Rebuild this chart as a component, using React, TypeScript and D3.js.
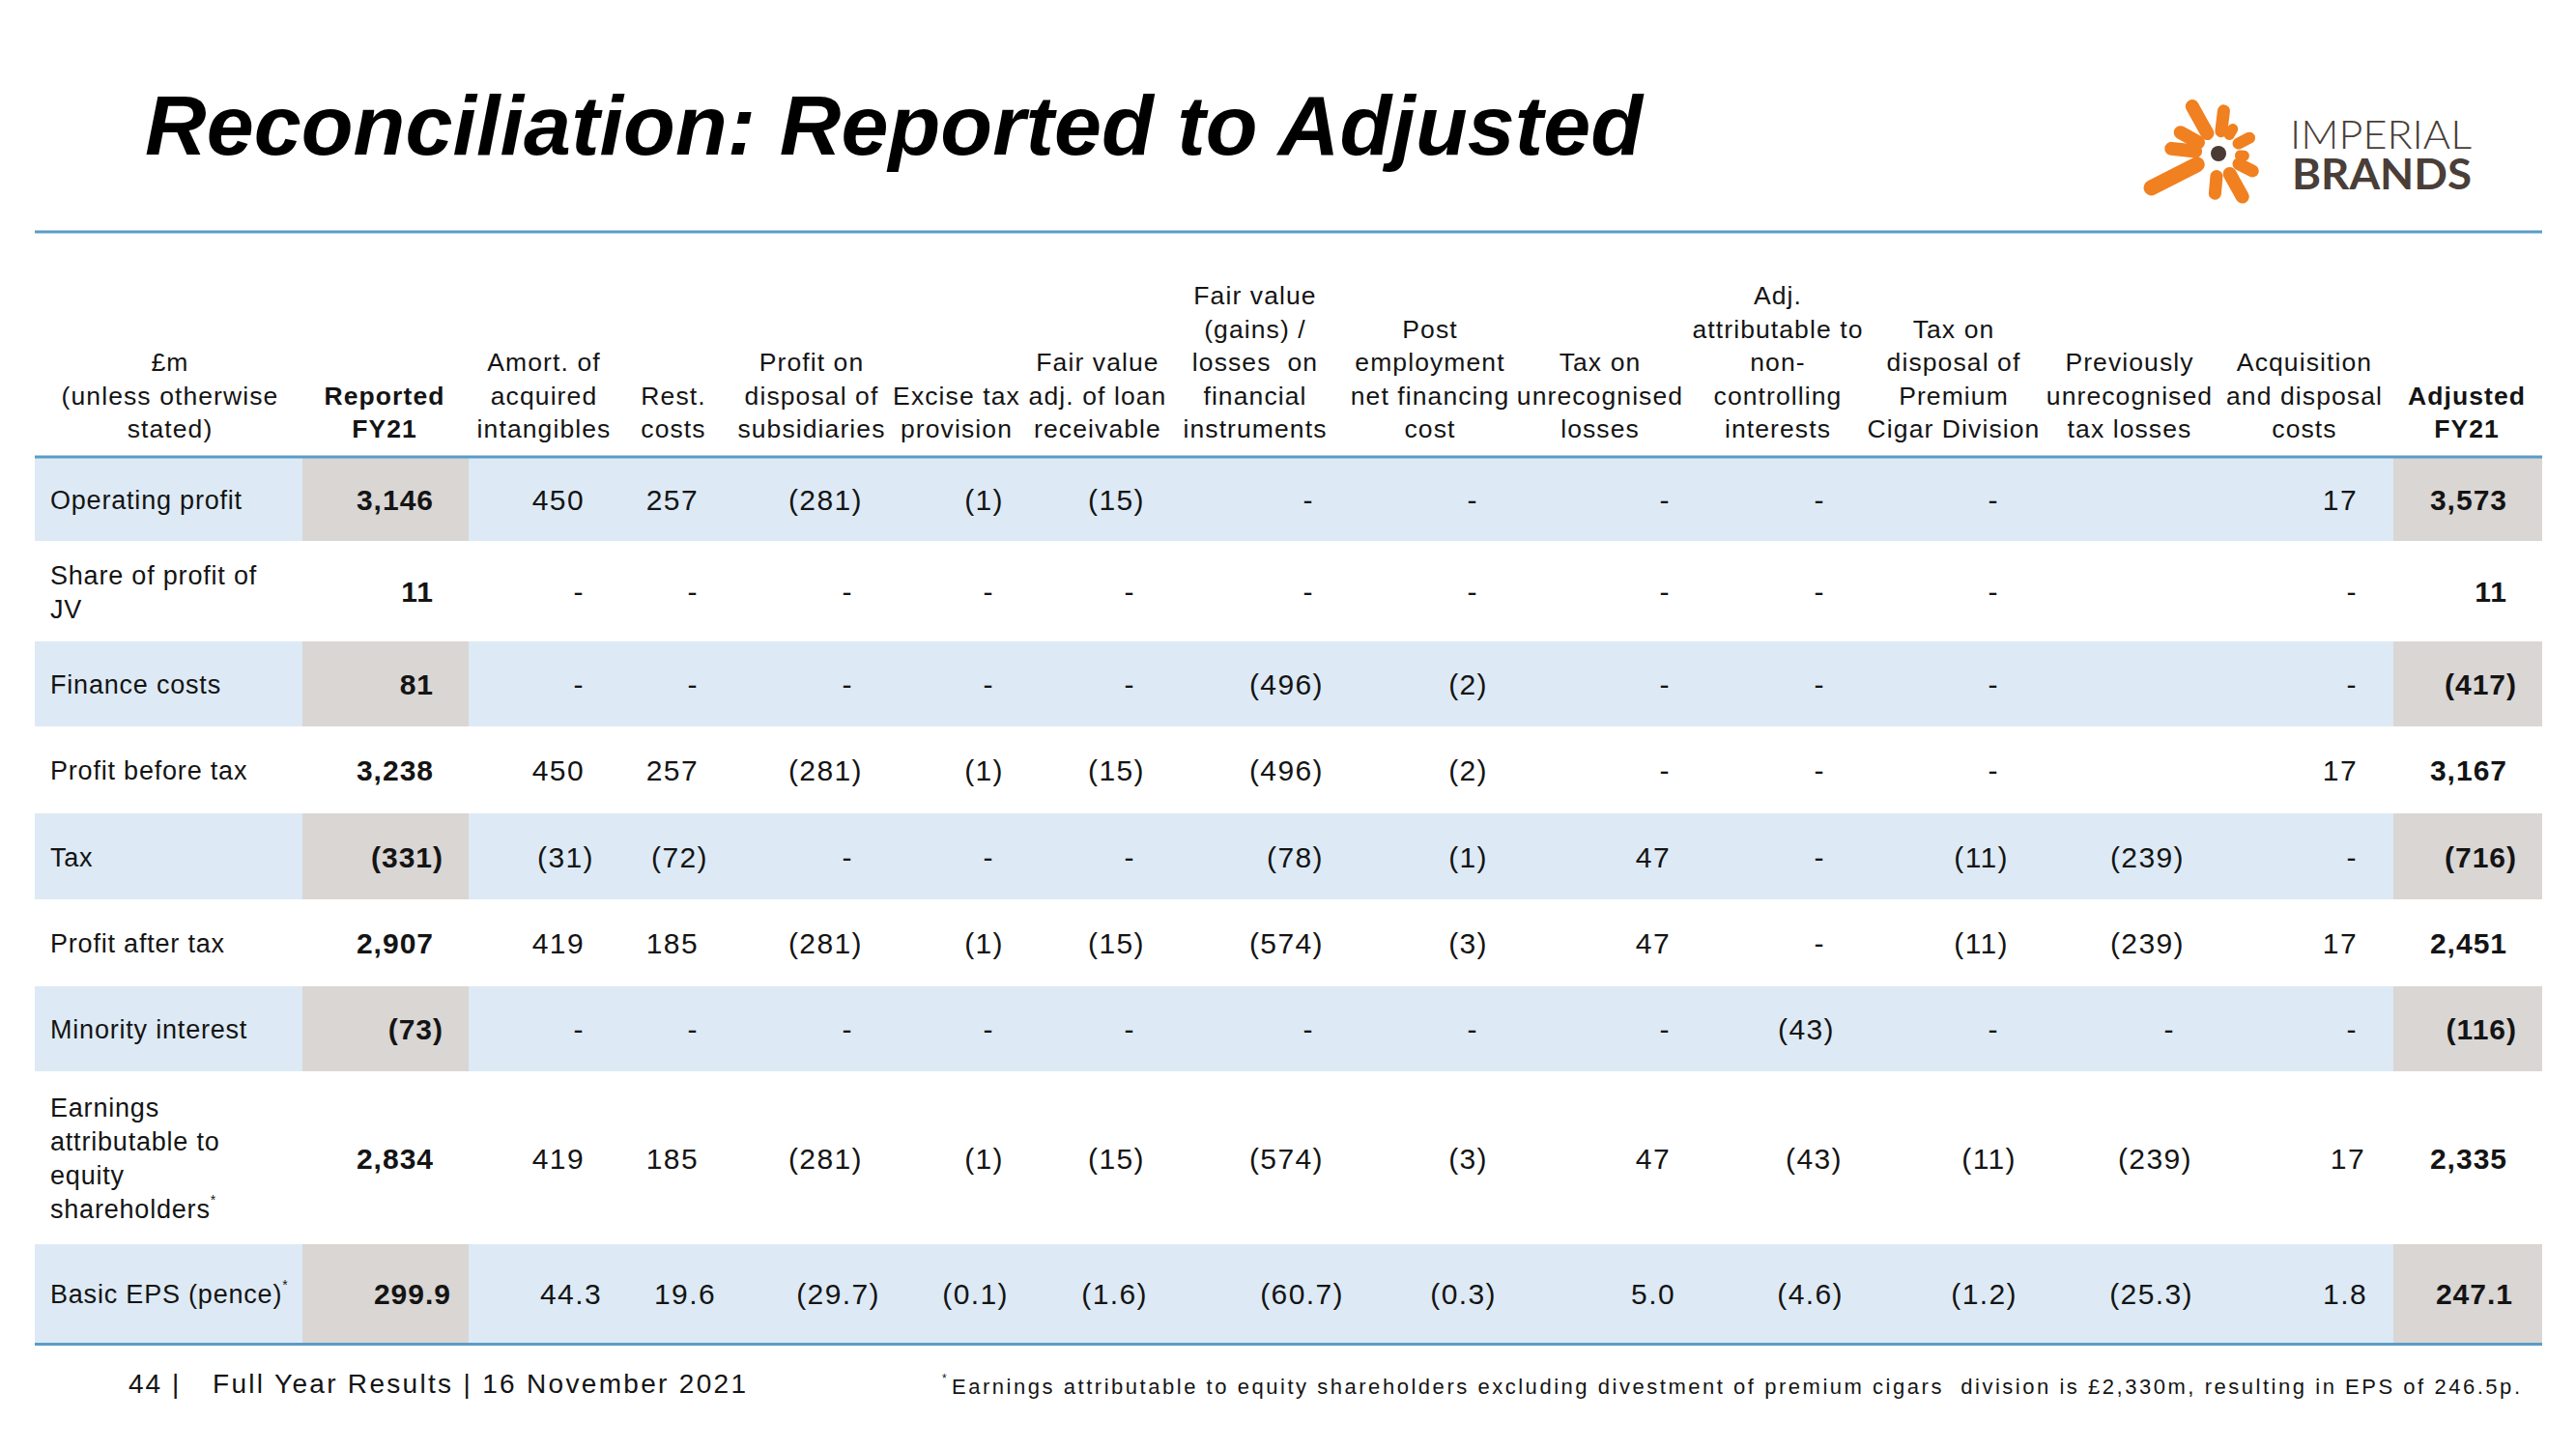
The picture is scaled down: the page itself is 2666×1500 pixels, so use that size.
import React from "react";
import * as d3 from "d3";

// ---------- DATA ----------
const rowLabels: string[][] = [
  ["Operating profit"],
  ["Share of profit of", "JV"],
  ["Finance costs"],
  ["Profit before tax"],
  ["Tax"],
  ["Profit after tax"],
  ["Minority interest"],
  ["Earnings", "attributable to", "equity", "shareholders*"],
  ["Basic EPS (pence)*"],
];

// 0 => "-", null => blank
const reportedFY21 = [3146, 11, 81, 3238, -331, 2907, -73, 2834, 299.9];
const amortIntangibles = [450, 0, 0, 450, -31, 419, 0, 419, 44.3];
const restCosts = [257, 0, 0, 257, -72, 185, 0, 185, 19.6];
const profitOnDisposal = [-281, 0, 0, -281, 0, -281, 0, -281, -29.7];
const exciseTaxProvision = [-1, 0, 0, -1, 0, -1, 0, -1, -0.1];
const fairValueLoan = [-15, 0, 0, -15, 0, -15, 0, -15, -1.6];
const fairValueFinancial = [0, 0, -496, -496, -78, -574, 0, -574, -60.7];
const postEmployment = [0, 0, -2, -2, -1, -3, 0, -3, -0.3];
const taxUnrecognised = [0, 0, 0, 0, 47, 47, 0, 47, 5.0];
const nonControlling = [0, 0, 0, 0, 0, 0, -43, -43, -4.6];
const taxCigarDivision = [0, 0, 0, 0, -11, -11, 0, -11, -1.2];
const prevUnrecognised = [null, null, null, null, -239, -239, 0, -239, -25.3];
const acquisitionCosts = [17, 0, 0, 17, 0, 17, 0, 17, 1.8];
const adjustedFY21 = [3573, 11, -417, 3167, -716, 2451, -116, 2335, 247.1];

const headers: string[][] = [
  ["£m", "(unless otherwise", "stated)"],
  ["Reported", "FY21"],
  ["Amort. of", "acquired", "intangibles"],
  ["Rest.", "costs"],
  ["Profit on", "disposal of", "subsidiaries"],
  ["Excise tax", "provision"],
  ["Fair value", "adj. of loan", "receivable"],
  ["Fair value", "(gains) /", "losses  on", "financial", "instruments"],
  ["Post", "employment", "net financing", "cost"],
  ["Tax on", "unrecognised", "losses"],
  ["Adj.", "attributable to", "non-", "controlling", "interests"],
  ["Tax on", "disposal of", "Premium", "Cigar Division"],
  ["Previously", "unrecognised", "tax losses"],
  ["Acquisition", "and disposal", "costs"],
  ["Adjusted", "FY21"],
];

const columnSeries: (number | null)[][] = [
  reportedFY21, amortIntangibles, restCosts, profitOnDisposal, exciseTaxProvision,
  fairValueLoan, fairValueFinancial, postEmployment, taxUnrecognised, nonControlling,
  taxCigarDivision, prevUnrecognised, acquisitionCosts, adjustedFY21,
];

// ---------- LAYOUT ----------
const FONT = "'Liberation Sans', Arial, Helvetica, sans-serif";
const BLUE_LINE = "#5b9cc6";
const ROW_BLUE = "#ddeaf5";
const CELL_GRAY = "#d9d6d4";
const TEXT = "#141414";

const tableLeft = 36;
const tableRight = 2631;
const headerLineY = 473;
const rowHeights = [87, 104, 88, 90, 89, 90, 88, 179, 102];
const headerCenters = [176, 398, 563, 697, 840, 990, 1136, 1299, 1480, 1656, 1840, 2022, 2204, 2385, 2553];
const valueRights = [459, 615, 733, 893, 1039, 1185, 1370, 1540, 1739, 1899, 2079, 2261, 2450, 2605];
const epsShift = [8, 8, 8, 18, 5, 3, 21, 9, -5, 9, 9, 9, 0, -4];
const earningsShift = [0, 0, 0, 0, 0, 0, 0, 0, 0, 8, 8, 8, 8, 0];
const grayCells = [[313, 485], [2477, 2631]];
const boldCols = new Set([0, 13]);
const shadedRows = new Set([0, 2, 4, 6, 8]);
const epsRow = 8;
const earningsRow = 7;

const rowEdges = [headerLineY, ...Array.from(d3.cumsum(rowHeights), (c) => headerLineY + c)];

const fmtInt = d3.format(",");
const fmtDec = d3.format(",.1f");
function fmt(v: number | null, eps: boolean): string {
  if (v === null || v === undefined) return "";
  if (v === 0) return "-";
  const s = eps ? fmtDec(Math.abs(v)) : fmtInt(Math.abs(v));
  return v < 0 ? `(${s})` : s;
}

// Logo arms: [angle deg, outer length, width]
const logoArms: [number, number, number][] = [
  [-119, 63, 14], [-83, 51, 13], [-60, 35, 11], [-27, 42, 12], [5, 32, 11],
  [27, 46, 13], [61, 58, 14], [95, 48, 13], [153, 86, 16], [186, 56, 14], [209, 52, 14],
];

function Label({ lines, x, yCenter }: { lines: string[]; x: number; yCenter: number }) {
  const lh = 35;
  const first = yCenter + 10 - ((lines.length - 1) * lh) / 2;
  return (
    <text x={x} fontFamily={FONT} fontSize={27} letterSpacing={0.8} fill={TEXT}>
      {lines.map((l, i) => {
        const star = l.endsWith("*");
        const t = star ? l.slice(0, -1) : l;
        return (
          <tspan key={i} x={x} y={first + i * lh}>
            {t}
            {star && (
              <tspan fontSize={14} dy={-14}>*</tspan>
            )}
          </tspan>
        );
      })}
    </text>
  );
}

export default function App() {
  const cx = 2296, cy = 159;
  return (
    <svg
      width={2666}
      height={1500}
      viewBox="0 0 2666 1500"
      style={{ position: "absolute", left: 0, top: 0, background: "#fff" }}
    >
      <rect x={0} y={0} width={2666} height={1500} fill="#fff" />
      {/* Title */}
      <text
        x={150}
        y={160}
        fontFamily={FONT}
        fontSize={88}
        fontWeight="bold"
        fontStyle="italic"
        fill="#000"
        textLength={1550}
        lengthAdjust="spacing"
      >
        Reconciliation: Reported to Adjusted
      </text>

      {/* Logo */}
      <g>
        {logoArms.map(([a, len, w], i) => {
          const r = (a * Math.PI) / 180;
          const r0 = 17 + w / 2;
          return (
            <line
              key={i}
              x1={cx + Math.cos(r) * r0}
              y1={cy + Math.sin(r) * r0}
              x2={cx + Math.cos(r) * (len - w / 2)}
              y2={cy + Math.sin(r) * (len - w / 2)}
              stroke="#f08020"
              strokeWidth={w}
              strokeLinecap="round"
            />
          );
        })}
        <circle cx={cx} cy={cy} r={8} fill="#4a3b35" />
        <text fontFamily="Lato, 'Open Sans', sans-serif" fill="#4a3e38">
          <tspan x={2370} y={154} fontWeight={300} fontSize={42} textLength={188} lengthAdjust="spacingAndGlyphs">IMPERIAL</tspan>
          <tspan x={2372} y={196} fontWeight={700} fontSize={43} textLength={186} lengthAdjust="spacingAndGlyphs">BRANDS</tspan>
        </text>
      </g>

      {/* Top rule */}
      <rect x={tableLeft} y={238.5} width={tableRight - tableLeft} height={3} fill={BLUE_LINE} />

      {/* Headers */}
      {headers.map((lines, ci) => (
        <text
          key={ci}
          fontFamily={FONT}
          fontSize={26.5}
          letterSpacing={1.1}
          fontWeight={ci === 1 || ci === 14 ? "bold" : "normal"}
          textAnchor="middle"
          fill={TEXT}
          style={{ whiteSpace: "pre" }}
        >
          {lines.map((l, li) => (
            <tspan key={li} x={headerCenters[ci]} y={453 - (lines.length - 1 - li) * 34.5}>
              {l}
            </tspan>
          ))}
        </text>
      ))}

      {/* Row backgrounds */}
      {rowHeights.map((h, ri) =>
        shadedRows.has(ri) ? (
          <g key={ri}>
            <rect x={tableLeft} y={rowEdges[ri]} width={tableRight - tableLeft} height={h} fill={ROW_BLUE} />
            {grayCells.map(([a, b], gi) => (
              <rect key={gi} x={a} y={rowEdges[ri]} width={b - a} height={h} fill={CELL_GRAY} />
            ))}
          </g>
        ) : null
      )}

      {/* Header rule & bottom rule */}
      <rect x={tableLeft} y={headerLineY - 1.5} width={tableRight - tableLeft} height={3} fill={BLUE_LINE} />
      <rect x={tableLeft} y={rowEdges[rowEdges.length - 1]} width={tableRight - tableLeft} height={3} fill={BLUE_LINE} />

      {/* Row labels */}
      {rowLabels.map((lines, ri) => (
        <Label key={ri} lines={lines} x={52} yCenter={(rowEdges[ri] + rowEdges[ri + 1]) / 2} />
      ))}

      {/* Values */}
      {columnSeries.map((series, ci) =>
        series.map((v, ri) => {
          const eps = ri === epsRow;
          const s = fmt(v, eps);
          if (!s) return null;
          const neg = v !== null && v < 0;
          const bold = boldCols.has(ci);
          let x = eps ? valueRights[ci] + epsShift[ci] : neg ? valueRights[ci] : valueRights[ci] - 10;
          if (ri === earningsRow) x += earningsShift[ci];
          const yc = (rowEdges[ri] + rowEdges[ri + 1]) / 2;
          return (
            <text
              key={`${ci}-${ri}`}
              x={x}
              y={yc + 11}
              textAnchor="end"
              fontFamily={FONT}
              fontSize={30}
              letterSpacing={bold ? 1 : 1.4}
              fontWeight={bold ? "bold" : "normal"}
              fill={TEXT}
            >
              {s}
            </text>
          );
        })
      )}

      {/* Footer */}
      <text x={133} y={1442} fontFamily={FONT} fontSize={28} letterSpacing={2} fill={TEXT}>
        44 |
      </text>
      <text x={220} y={1442} fontFamily={FONT} fontSize={28} fill={TEXT} textLength={552} lengthAdjust="spacing">
        Full Year Results | 16 November 2021
      </text>
      <text x={975} y={1431} fontFamily={FONT} fontSize={12} fill={TEXT}>*</text>
      <text x={985} y={1443} fontFamily={FONT} fontSize={22} fill={TEXT} textLength={1623} lengthAdjust="spacing" style={{ whiteSpace: "pre" }}>
        Earnings attributable to equity shareholders excluding divestment of premium cigars  division is £2,330m, resulting in EPS of 246.5p.
      </text>
    </svg>
  );
}
